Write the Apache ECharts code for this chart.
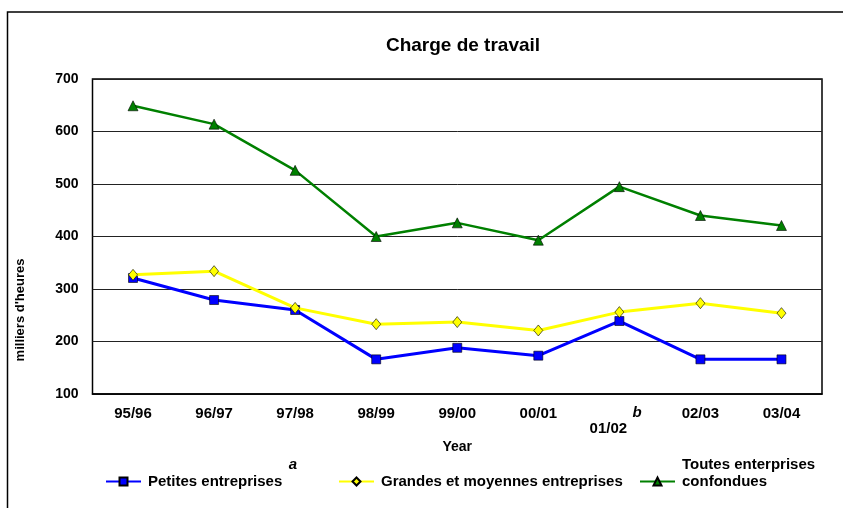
<!DOCTYPE html>
<html>
<head>
<meta charset="utf-8">
<script src="https://cdn.jsdelivr.net/npm/echarts@6/dist/echarts.min.js"></script>
<style>
  html, body { margin: 0; padding: 0; background: #fff; }
  #main { width: 843px; height: 508px; }
</style>
</head>
<body>
<div id="main"></div>
<script>
// données
var years = ["95/96", "96/97", "97/98", "98/99", "99/00", "00/01", "01/02", "02/03", "03/04"];
var petites = [321, 279, 260, 166, 188, 173, 239, 166, 166];
var grandes = [327, 334, 264, 233, 237, 221, 256, 273, 254];
var toutes = [649, 614, 526, 400, 426, 393, 495, 440, 421];
var yTicks = [100, 700, 100]; // min, max, pas

var FONT = "Liberation Sans, Arial, sans-serif";
var myChart = echarts.init(document.getElementById("main"));

function legendAt(name, left, fmt) {
  return {
    data: [name],
    left: left,
    top: 474,
    padding: 0,
    itemWidth: 35,
    itemHeight: 10,
    formatter: fmt || "{name}",
    textStyle: { fontFamily: FONT, fontWeight: "bold", fontSize: 15, color: "#000", padding: [0, 0, 0, 2] },
    selectedMode: false
  };
}

myChart.setOption({
  animation: false,
  backgroundColor: "#fff",
  title: {
    text: "Charge de travail",
    left: 458,
    top: 31,
    textAlign: "center",
    textStyle: { fontFamily: FONT, fontWeight: "bold", fontSize: 19, color: "#000" }
  },
  grid: {
    left: 92.5,
    right: 21,
    top: 79,
    bottom: 114,
    show: true,
    borderColor: "#000",
    borderWidth: 1.5,
    containLabel: false
  },
  legend: [
    legendAt("Petites entreprises", 105),
    legendAt("Grandes et moyennes entreprises", 338),
    legendAt("Toutes enterprises confondues", 639, "confondues")
  ],
  xAxis: {
    type: "category",
    data: years,
    boundaryGap: true,
    name: "Year",
    nameLocation: "middle",
    nameGap: 46,
    nameMoveOverlap: false,
    nameTextStyle: { fontFamily: FONT, fontWeight: "bold", fontSize: 14, color: "#000" },
    axisLine: { lineStyle: { color: "#000", width: 1.5 } },
    axisTick: { show: false },
    axisLabel: {
      interval: 0,
      margin: 12,
      fontFamily: FONT,
      fontWeight: "bold",
      fontSize: 15,
      color: "#000",
      formatter: function (v, i) { return i === 6 ? "{low|" + v + "}" : v; },
      rich: { low: { fontFamily: FONT, fontWeight: "bold", fontSize: 15, color: "#000", padding: [15, 22, 0, 0] } }
    }
  },
  yAxis: {
    type: "value",
    min: yTicks[0],
    max: yTicks[1],
    interval: yTicks[2],
    axisLine: { show: false },
    axisTick: { show: false },
    axisLabel: { margin: 14, fontFamily: FONT, fontWeight: "bold", fontSize: 14, color: "#000" },
    splitLine: { lineStyle: { color: "#222", width: 1 } }
  },
  series: [
    {
      name: "Petites entreprises",
      type: "line",
      data: petites,
      symbol: "rect",
      symbolSize: 9,
      lineStyle: { color: "#0000ff", width: 3 },
      itemStyle: { color: "#0000ff", borderColor: "#000", borderWidth: 0.6 },
      z: 3
    },
    {
      name: "Grandes et moyennes entreprises",
      type: "line",
      data: grandes,
      symbol: "diamond",
      symbolSize: [9, 11],
      lineStyle: { color: "#ffff00", width: 3 },
      itemStyle: { color: "#ffff00", borderColor: "#000", borderWidth: 0.6 },
      z: 4
    },
    {
      name: "Toutes enterprises confondues",
      type: "line",
      data: toutes,
      symbol: "triangle",
      symbolSize: 10,
      lineStyle: { color: "#008000", width: 2.5 },
      itemStyle: { color: "#008000", borderColor: "#000", borderWidth: 0.6 },
      z: 5
    }
  ],
  graphic: [
    {
      type: "rect",
      z: -10,
      shape: { x: 7.5, y: 12, width: 900, height: 600 },
      style: { fill: "none", stroke: "#000", lineWidth: 1.5 }
    },
    {
      type: "text",
      x: 20,
      y: 310,
      rotation: Math.PI / 2,
      style: { text: "milliers d'heures", fontFamily: FONT, fontWeight: "bold", fontSize: 13, fill: "#000", align: "center", verticalAlign: "middle" }
    },
    {
      type: "text",
      x: 637,
      y: 413,
      style: { text: "b", fontFamily: FONT, fontWeight: "bold", fontStyle: "italic", fontSize: 15, fill: "#000", align: "center", verticalAlign: "middle" }
    },
    {
      type: "text",
      x: 293,
      y: 465,
      style: { text: "a", fontFamily: FONT, fontWeight: "bold", fontStyle: "italic", fontSize: 15, fill: "#000", align: "center", verticalAlign: "middle" }
    },
    {
      type: "text",
      x: 682,
      y: 465,
      style: { text: "Toutes enterprises", fontFamily: FONT, fontWeight: "bold", fontSize: 15, fill: "#000", align: "left", verticalAlign: "middle" }
    }
  ]
});
</script>
</body>
</html>
